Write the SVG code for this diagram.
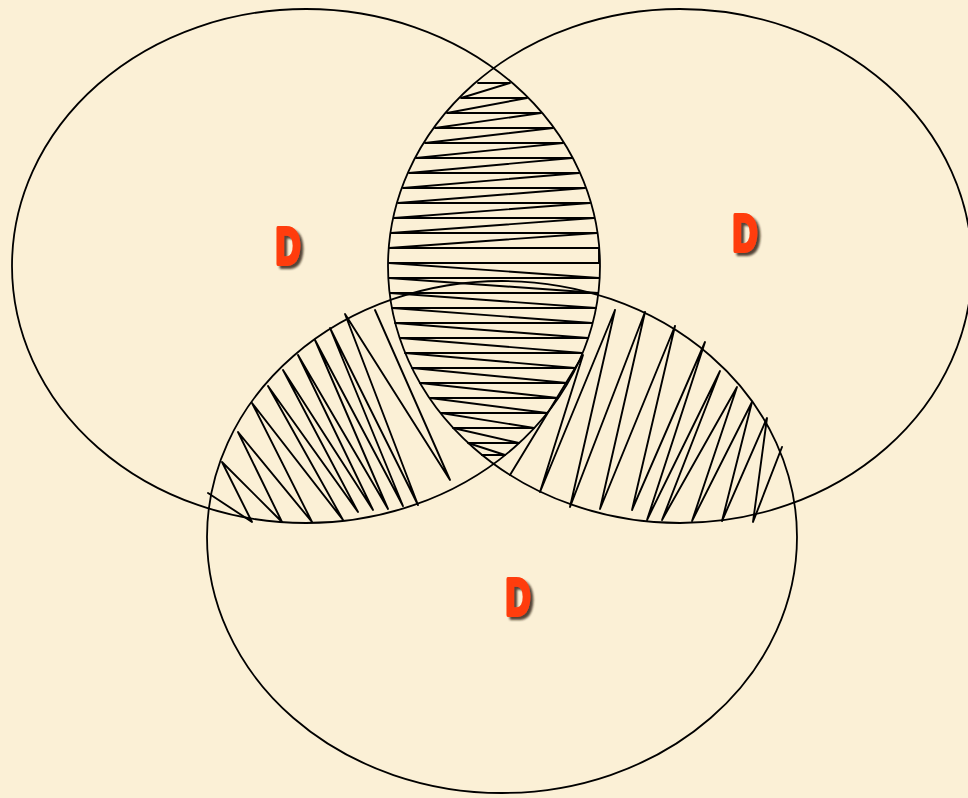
<svg xmlns="http://www.w3.org/2000/svg" width="968" height="798" viewBox="0 0 968 798">
  <defs>
    <style>
      .set { fill: none; stroke: #000; stroke-width: 1.8; }
      .hatch { fill: none; stroke: #000; stroke-width: 1.9; stroke-linejoin: round; stroke-linecap: round; }
      .lbl { font-family: "Liberation Sans", Arial, sans-serif; font-weight: bold; font-size: 52px; text-anchor: middle; fill: #ff3c0c; stroke: #ff3c0c; stroke-width: 4; stroke-linejoin: round; filter: url(#shadow); }
    </style>
    <filter id="shadow" x="-40%" y="-30%" width="180%" height="170%">
      <feGaussianBlur in="SourceAlpha" stdDeviation="1.2" result="b"/>
      <feOffset in="b" dx="3" dy="3" result="o"/>
      <feFlood flood-color="#2a1a10" flood-opacity="0.8"/>
      <feComposite in2="o" operator="in" result="s"/>
      <feMerge>
        <feMergeNode in="s"/>
        <feMergeNode in="SourceGraphic"/>
      </feMerge>
    </filter>
  </defs>

  <rect x="0" y="0" width="968" height="798" fill="#fbf0d6"/>

  <g id="set-left">
    <ellipse class="set" cx="306" cy="266" rx="294" ry="257"/>
    <text class="lbl" x="288" y="264" textLength="25" lengthAdjust="spacingAndGlyphs">D</text>
  </g>

  <g id="set-right">
    <ellipse class="set" cx="680" cy="266" rx="292" ry="257"/>
    <text class="lbl" x="745" y="251" textLength="25" lengthAdjust="spacingAndGlyphs">D</text>
  </g>

  <g id="set-bottom">
    <ellipse class="set" cx="502" cy="537" rx="295" ry="256"/>
    <text class="lbl" x="518" y="615" textLength="25" lengthAdjust="spacingAndGlyphs">D</text>
  </g>

  <g id="hatching">
    <polyline class="hatch" points="478,83 510,83 461,98 527,98 447,113 541,113 435,128 553,128 425,143 563,143 416,158 572,158 409,173 579,173 403,188 585,188 398,203 590,203 394,218 594,218 391,233 597,233 389,248 599,248 599,263 389,263 599,278 389,278 598,293 390,293 596,308 392,308 592,323 395,323 588,338 400,338 582,353 405,353 575,368 412,368 567,383 420,383 558,398 430,398 547,413 441,413 534,428 453,428 519,443 468,443 505,455 482,455"/>
    <polyline class="hatch" points="375,310 450,480 345,314 418,505 330,328 403,506 315,340 388,509 298,355 373,510 283,370 358,512 268,386 343,520 252,403 312,522 238,432 282,522 222,462 252,522 208,493"/>
    <polyline class="hatch" points="510,475 583,355 540,492 615,310 570,507 645,312 600,509 675,326 632,510 705,342 647,520 720,371 662,520 737,387 692,521 752,402 722,521 767,418 753,522 782,447"/>
  </g>
</svg>
